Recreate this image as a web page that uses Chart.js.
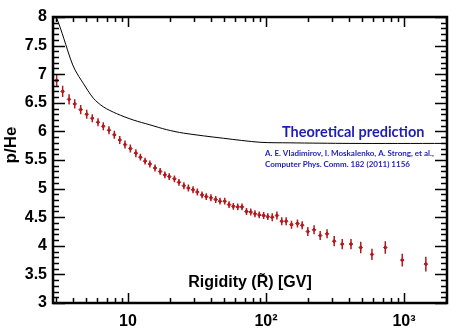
<!DOCTYPE html>
<html>
<head>
<meta charset="utf-8">
<script src="https://cdn.jsdelivr.net/npm/chart.js@4"></script>
<style>
  html, body { margin: 0; padding: 0; background: #fff; }
  #wrap { width: 458px; height: 333px; }
</style>
</head>
<body>
<div id="wrap"><canvas id="chart"></canvas></div>
<script>
// p/He ratio data points (rigidity in GV)
const rigidity = [3.04, 3.36, 3.74, 4.11, 4.54, 5.02, 5.51, 6.06, 6.62, 7.28,
  7.96, 8.71, 9.51, 10.4, 11.4, 12.3, 13.3, 14.4, 15.7, 17.1,
  18.5, 19.9, 21.7, 23.4, 25.4, 27.4, 29.6, 31.8, 34.4, 36.9,
  39.9, 43.2, 46.4, 50.2, 54.0, 58.0, 62.4, 67.0, 72.2, 77.5,
  83.2, 89.4, 96.1, 103, 111, 120, 130, 140, 153, 169,
  183, 201, 223, 247, 277, 312, 357, 413, 486, 586,
  732, 972, 1440];
const ratio = [6.89, 6.70, 6.56, 6.48, 6.38, 6.30, 6.23, 6.16, 6.09, 6.02,
  5.94, 5.85, 5.77, 5.70, 5.62, 5.55, 5.48, 5.43, 5.36, 5.30,
  5.24, 5.21, 5.17, 5.11, 5.05, 5.01, 4.98, 4.94, 4.89, 4.86,
  4.84, 4.81, 4.78, 4.78, 4.72, 4.69, 4.68, 4.68, 4.60, 4.59,
  4.56, 4.54, 4.53, 4.51, 4.50, 4.53, 4.43, 4.43, 4.37, 4.39,
  4.36, 4.25, 4.28, 4.18, 4.21, 4.08, 4.03, 4.03, 3.97, 3.85,
  3.97, 3.75, 3.68];
const ratioErr = [0.11, 0.10, 0.09, 0.08, 0.08, 0.08, 0.07, 0.07, 0.07, 0.07,
  0.07, 0.07, 0.07, 0.07, 0.07, 0.06, 0.06, 0.06, 0.06, 0.06,
  0.06, 0.06, 0.06, 0.06, 0.06, 0.06, 0.06, 0.06, 0.06, 0.06,
  0.06, 0.06, 0.06, 0.06, 0.06, 0.06, 0.06, 0.06, 0.06, 0.06,
  0.06, 0.06, 0.06, 0.06, 0.07, 0.07, 0.07, 0.07, 0.07, 0.07,
  0.07, 0.08, 0.08, 0.08, 0.08, 0.09, 0.09, 0.09, 0.10, 0.10,
  0.11, 0.11, 0.13];

// theoretical prediction curve
const theoryR = [2.86, 3.04, 3.85, 4.13, 4.74, 5.61, 6.62, 8.28, 10.9, 14.4,
  19.1, 25.2, 49.1, 90.6, 149, 406, 2000];
const theoryRatio = [8.0, 7.98, 7.25, 7.075, 6.84, 6.58, 6.43, 6.31, 6.20, 6.115,
  6.03, 5.97, 5.88, 5.81, 5.80, 5.79, 5.79];

const xTickLabels = { 10: '10', 100: '10\u00b2', 1000: '10\u00b3' };
const yTickLabels = [3, 3.5, 4, 4.5, 5, 5.5, 6, 6.5, 7, 7.5, 8];

const dataColor = '#b3191c';
const blue = '#1e1eb4';

const points = rigidity.map((r, i) => ({ x: r, y: ratio[i] }));
const errBars = [];
rigidity.forEach((r, i) => {
  errBars.push({ x: r, y: ratio[i] - ratioErr[i] });
  errBars.push({ x: r, y: ratio[i] + ratioErr[i] });
  errBars.push({ x: r, y: null });
});
const theory = theoryR.map((r, i) => ({ x: r, y: theoryRatio[i] }));

// frame, inward ticks and annotation text
const decorPlugin = {
  id: 'decor',
  afterDraw(chart) {
    const ctx = chart.ctx;
    const a = chart.chartArea;
    const xs = chart.scales.x, ys = chart.scales.y;
    ctx.save();
    ctx.strokeStyle = '#000';
    ctx.lineWidth = 1.5;
    ctx.beginPath();
    for (let k = 30; k <= 80; k++) {
      const v = k / 10;
      const py = Math.round(ys.getPixelForValue(v)) + 0.5;
      const len = (k % 5 === 0) ? 12 : 6;
      ctx.moveTo(a.left, py); ctx.lineTo(a.left + len, py);
      ctx.moveTo(a.right, py); ctx.lineTo(a.right - len, py);
    }
    for (let d = 1; d <= 1000; d *= 10) {
      for (let m = 1; m <= 9; m++) {
        const v = d * m;
        if (v < xs.min || v > xs.max) continue;
        const px = Math.round(xs.getPixelForValue(v)) + 0.5;
        const len = (m === 1) ? 10 : 5;
        ctx.moveTo(px, a.bottom); ctx.lineTo(px, a.bottom - len);
        ctx.moveTo(px, a.top); ctx.lineTo(px, a.top + len);
      }
    }
    ctx.stroke();
    ctx.lineWidth = 2.5;
    ctx.strokeRect(a.left, a.top, a.right - a.left, a.bottom - a.top);

    ctx.fillStyle = '#000';
    ctx.font = 'bold 16px "Liberation Sans", Arial, sans-serif';
    ctx.textAlign = 'center';
    ctx.textBaseline = 'middle';
    ctx.fillText('Rigidity (R\u0303) [GV]', 250, 283);

    ctx.save();
    ctx.translate(11, 145);
    ctx.rotate(-Math.PI / 2);
    ctx.font = 'bold 17px "Liberation Sans", Arial, sans-serif';
    ctx.fillText('p/He', 0, 0);
    ctx.restore();

    ctx.fillStyle = blue;
    ctx.textAlign = 'left';
    ctx.font = 'bold 14.5px Lato, "Open Sans", sans-serif';
    ctx.fillText('Theoretical prediction', 282, 132);
    ctx.font = 'bold 8px Lato, "Open Sans", sans-serif';
    ctx.fillText('A. E. Vladimirov, I. Moskalenko, A. Strong, et al.,', 265, 153);
    ctx.fillText('Computer Phys. Comm. 182 (2011) 1156', 265, 164);
    ctx.restore();
  }
};

new Chart(document.getElementById('chart'), {
  type: 'scatter',
  data: {
    datasets: [
      {
        type: 'line',
        data: theory,
        borderColor: '#000',
        borderWidth: 1,
        pointRadius: 0,
        fill: false,
        tension: 0.3,
      },
      {
        type: 'line',
        data: errBars,
        borderColor: dataColor,
        borderWidth: 1.5,
        pointRadius: 0,
        spanGaps: false,
        fill: false,
      },
      {
        data: points,
        backgroundColor: dataColor,
        borderColor: dataColor,
        pointRadius: 1.8,
        pointStyle: 'rectRot',
      },
    ],
  },
  options: {
    responsive: true,
    maintainAspectRatio: false,
    animation: false,
    layout: { padding: { top: 17, right: 11, left: 0, bottom: 0 } },
    plugins: { legend: { display: false }, tooltip: { enabled: false } },
    scales: {
      x: {
        type: 'logarithmic',
        min: 2.86,
        max: 2050,
        grid: { display: false, drawTicks: false },
        border: { display: false },
        afterFit(scale) { scale.height = 30; },
        afterBuildTicks(scale) {
          scale.ticks = [10, 100, 1000].map(v => ({ value: v }));
        },
        ticks: {
          autoSkip: false,
          maxRotation: 0,
          padding: 9,
          color: '#000',
          font: { family: '"Liberation Sans", Arial, sans-serif', size: 16, weight: 'bold' },
          callback: v => xTickLabels[v] || '',
        },
      },
      y: {
        min: 3,
        max: 8,
        grid: { display: false, drawTicks: false },
        border: { display: false },
        afterFit(scale) { scale.width = 53; },
        afterBuildTicks(scale) {
          scale.ticks = yTickLabels.map(v => ({ value: v }));
        },
        ticks: {
          padding: 6,
          color: '#000',
          font: { family: '"Liberation Sans", Arial, sans-serif', size: 16, weight: 'bold' },
          callback: v => String(v),
        },
      },
    },
  },
  plugins: [decorPlugin],
});
</script>
</body>
</html>
